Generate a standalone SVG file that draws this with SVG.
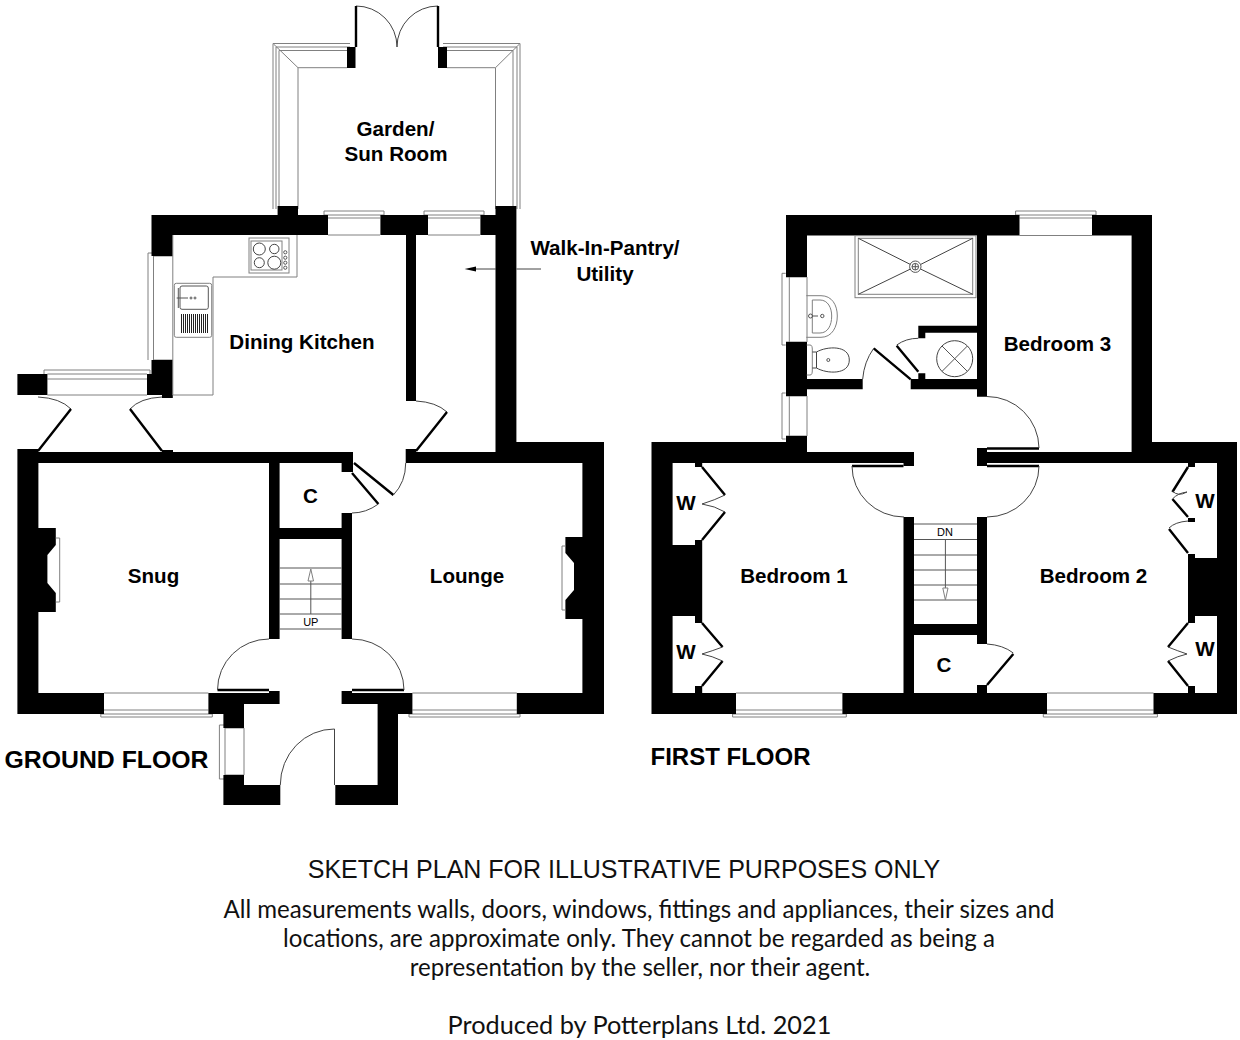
<svg xmlns="http://www.w3.org/2000/svg" width="1240" height="1040" viewBox="0 0 1240 1040">
<style>
.w{fill:#000;stroke:none}
.g{fill:none;stroke:#808080;stroke-width:1}
.gw{fill:#fff;stroke:#808080;stroke-width:1}
.a{fill:none;stroke:#444;stroke-width:1}
.d{fill:none;stroke:#000;stroke-width:2.4}
.s{fill:none;stroke:#555;stroke-width:1}
.t{font-family:"Liberation Sans",Arial,sans-serif;font-weight:700;font-size:20.6px;fill:#000;text-anchor:middle}
.u{font-family:"Liberation Sans",Arial,sans-serif;font-size:11px;fill:#000;text-anchor:middle}
.n{font-family:"Lato","Noto Sans",sans-serif;font-size:24.1px;fill:#111;text-anchor:middle}
</style>
<rect width="1240" height="1040" fill="#fff"/>

<g id="ground-floor">
<g id="sun-room-glazing" class="g">
<path d="M350 43.5H273V209M350 47H276V209M350 50.5H279V209M298 209V67.7H347M273.5 44L298 67.7"/>
<path d="M443 43.5H520V209M443 47H517V209M443 50.5H513V209M495.5 209V67.7H447M519.5 44L495.5 67.7"/>
</g>
<g id="ground-windows" class="g">
<path d="M328 218H380M328 235H380M324 215V211H384V215M324 215H384"/>
<path d="M428 218H480M428 235H480M424 215V211H484V215M424 215H484"/>
<path d="M148 360V253H153.5V360M153.5 256H172.8M153.5 360H172.8"/>
<path d="M44 374V370H150V374M47.4 379H147M47.4 395H147M47.4 374H147"/>
<path d="M104 693H208.4M104 710H208.4M100.8 714V717H212.3V714M100.8 714H212.3"/>
<path d="M412.4 693H516.8M412.4 710H516.8M409 714V717H520V714M409 714H520"/>
<path d="M244 728V775M225 728H244M225 775H244M225 725V779M219.4 725V779H225M219.4 725H225"/>
</g>
<path id="ground-walls" class="w" d="M347 47h8.5v21H347zM438 47h9v21h-9zM277.6 206H298V215H328V235H172.8V256H151.5V215H277.6zM380.4 215H428V235H416V401H406V235H380.4zM480.4 215H495.5V206H516.4V442H604V714H516.8V693H582.4V619H565.4V600L574 590V563L565.4 553V537H582.4V463H405.7V449H416V452H495.5V235H480.4zM151.5 360H172.8V398H162V395H147V374H151.5zM17.4 374H47.4V395H17.4zM17.4 449H38.4V452H162V450H173V452H353V472H341.6V463H279.6V639H269V463H38.4V528H55.8V545L47.4 555V583L55.8 593V612H38.4V693H104V714H17.4zM279.6 528H341.6V539H279.6zM341.6 513H352V639H341.6zM208.4 693H269V691H279.6V704H244V728H223.4V714H208.4zM223.4 775H244V785H280.3V805H223.4zM341.6 691H352V693H412.4V714H398V805H335.3V785H377.6V704H341.6z"/>
<g id="ground-doors">
<path class="a" d="M356 47V6A41 41 0 0 1 397 47A41 41 0 0 1 438 6V47"/>
<path class="d" d="M356 47V6M438 47V6" stroke-width="2"/>
<path class="a" d="M38 397Q60 398 71 409M162 397Q140 398 130 409M416 401Q436 402 447 412"/>
<path class="d" d="M71 409L38 451M130 409L162 451M447 412L416 451M354 463L393.4 495M352 473L378.4 504M217.5 690H269M352 690H404"/>
<path class="a" d="M393.4 495Q405.7 482 405.7 463M378.4 504Q366 513 352 513M269 639A51.5 51 0 0 0 217.5 690M352 639A52 51 0 0 1 404 690M334.5 729V785M334.5 729A54 56 0 0 0 280.3 785"/>
</g>
<g id="ground-stairs">
<path class="s" d="M279.6 568H341.6M279.6 584H341.6M279.6 599H341.6M279.6 614H341.6M279.6 629H341.6M310.8 614V581"/>
<path class="gw" d="M310.8 569L313.5 581H308z"/>
<text class="u" x="310.8" y="626">UP</text>
</g>
<g id="chimney-trim" class="g">
<path d="M55.8 538H59.7V602H55.8M565.4 546H562V610H565.4"/>
</g>
<g id="kitchen-fittings">
<path class="g" d="M297 235V277H213V395H172.8"/>
<path class="g" d="M172.8 235V395"/>
<rect class="g" x="249" y="238" width="40" height="35"/>
<rect class="g" x="251" y="241" width="31" height="29"/>
<g class="a"><circle cx="259.3" cy="249" r="6"/><circle cx="274.3" cy="249" r="4.7"/><circle cx="259.3" cy="262.7" r="5"/><circle cx="274.3" cy="262.7" r="6.5"/></g>
<g class="s"><circle cx="285.3" cy="252.3" r="1.6"/><circle cx="285.3" cy="257.7" r="1.6"/><circle cx="285.3" cy="262.7" r="1.6"/><circle cx="285.3" cy="267.7" r="1.6"/></g>
<rect class="g" x="174.3" y="283.3" width="37.4" height="54" rx="2"/>
<rect class="s" x="180" y="286" width="28.3" height="23.3" rx="2"/>
<path d="M181.5 314V333M183.5 314V333M185.5 314V333M187.5 314V333M189.5 314V333M191.5 314V333M193.5 314V333M195.5 314V333M197.5 314V333M199.5 314V333M201.5 314V333M203.5 314V333M205.5 314V333M207.5 314V333" fill="none" stroke="#222" stroke-width="1"/>
<path class="s" d="M178.3 288V308M176.7 298H188"/>
<circle class="s" cx="191" cy="298" r="1"/><circle class="s" cx="195" cy="298" r="1"/>
</g>
<g id="pantry-arrow">
<path d="M476 269H496M516.4 269H541" stroke="#444" stroke-width="1" fill="none"/>
<path d="M464.6 269L476 266.5V271.5z" fill="#000"/>
</g>
<g id="ground-labels">
<text class="t" x="395.5" y="136">Garden/</text>
<text class="t" x="396" y="161">Sun Room</text>
<text class="t" x="302" y="349">Dining Kitchen</text>
<text class="t" x="605" y="255">Walk-In-Pantry/</text>
<text class="t" x="605" y="281">Utility</text>
<text class="t" x="310.5" y="503">C</text>
<text class="t" x="153.5" y="583">Snug</text>
<text class="t" x="467" y="583">Lounge</text>
<text class="t" x="106.5" y="768" style="font-size:24.8px">GROUND FLOOR</text>
</g>
</g>

<g id="first-floor">
<g id="first-windows" class="g">
<path d="M1019.5 218H1092M1019.5 235.5H1092M1015.6 215V211H1096V215M1015.6 215H1096"/>
<path d="M786 277H807M786 342H807M807 277V342M789.3 277V342M785.7 273.3H782V345H785.7"/>
<path d="M786 396H807M786 436H807M807 396V436M789.3 396V436M785.7 393H782V439H785.7"/>
<path d="M736 693H842.4M736 710H842.4M732.6 714V717H846.3V714M732.6 714H846.3"/>
<path d="M1047 693H1153.5M1047 710H1153.5M1043.3 714V717H1157.4V714M1043.3 714H1157.4"/>
</g>
<path id="first-walls" class="w" d="M786 215H1019.5V235.5H987V396.7H977V235.5H807V277H786zM918.3 325.7H977V332.7H925.3V338.3H918.3zM910.7 379H977V389.3H910.7zM1092 215H1152V442H1237V714H1153.5V693H1217V616H1188V558H1217V463H1131.6V235.5H1092zM786 342H807V379H862.7V389.3H807V396H786zM786 436H807V452H914V466H903.5V463H672.6V545H702.2V616H672.6V693H736V714H651.5V442H786zM977 448H987V452H1131.6V463H987V466H977zM903.5 517H914V624H977V517H987V644H977V635H914V693H977V685H987V693H1047V714H842.4V693H903.5z"/>
<path class="w" d="M695 463h7.2v4H695zM695 540h7.2v5H695zM695 616h7.2v7H695zM695 686h7.2v7H695zM1188 463h7v4h-7zM1188 554h7v4h-7zM1188 616h7v7h-7zM1188 686h7v7h-7zM1188 518h7v4h-7zM918.3 373.3h7v6h-7z"/>
<g id="first-doors">
<path class="d" d="M987 448.5H1039M987 466H1039M852 466H903.5M873.7 348.3L910.7 379.3M896.7 345.7L918.3 371.7M702 467L725 495M725 512L702 540M702 623L722.6 647M722.6 661L702 686M1188 467L1172.4 492M1172.4 499L1188 517M1169 529L1188 553M1188 623L1168 647M1168 661L1188 686M1013.3 654L987 685"/>
<path class="a" d="M987 396.5A52 52 0 0 1 1039 448M852 466A52 51 0 0 0 904 517M1039 466A52 51 0 0 1 987 517M873.7 348.3Q864 362 862.7 379M896.7 345Q906 338.3 918.3 338.3M987 644Q1003 645 1013.3 653"/>
<path class="a" d="M725 495Q715 500 702 504Q715 506 725 512M722.6 647Q712 651 702 654Q712 656 722.6 661M1172.4 491Q1178 497 1187 492Q1178 493 1172.4 499M1168 647Q1178 651 1187 654Q1178 656 1168 661M1188 521Q1175 522 1169 528"/>
</g>
<g id="first-stairs">
<path class="s" d="M914 524H977M914 539.5H977M914 555H977M914 570H977M914 585H977M914 600H977M945.4 540V588"/>
<path class="gw" d="M945.4 600L948 588H942.8z"/>
<text class="u" x="945" y="536">DN</text>
</g>
<g id="bathroom-fittings">
<rect class="g" x="855" y="235.7" width="121" height="62"/>
<rect class="g" x="858.3" y="238.3" width="114.4" height="56"/>
<path class="a" d="M858.3 238.3L910.5 264.5M972.7 238.3L920.5 264.5M858.3 294.3L910.5 269M972.7 294.3L920.5 269"/>
<circle class="s" cx="915.3" cy="266.7" r="5.7"/><circle class="s" cx="915.3" cy="266.7" r="3.3"/><path class="s" d="M912 266.7H918.6M915.3 263.4V270"/>
<path class="g" d="M806.3 295.7H821C832 295.7 837.3 305 837.3 316C837.3 327 832 337.3 821 337.3H806.3"/>
<path class="g" d="M812.3 300H820C828 300 831.7 308 831.7 316C831.7 325 828 333 820 333H812.3Z"/>
<circle class="s" cx="810.5" cy="316" r="2"/><circle class="s" cx="822.3" cy="316" r="1.7"/><path class="s" d="M812 316H818"/>
<path class="g" d="M806.7 345H810C812 345 812.3 347 812.3 350V370C812.3 373 812 375 810 375H806.7"/>
<path class="a" d="M816.5 352C827 346 849.3 345 849.3 360C849.3 375 827 374 816.5 368Z"/>
<path class="a" d="M812.3 352H816.5M812.3 368H816.5"/>
<circle class="s" cx="828.3" cy="360" r="1.5"/>
<circle class="a" cx="954.7" cy="358.7" r="18"/>
<path class="s" d="M942 346L967.4 371.4M967.4 346L942 371.4"/>
</g>
<g id="first-labels">
<text class="t" x="1057.5" y="351">Bedroom 3</text>
<text class="t" x="794" y="583">Bedroom 1</text>
<text class="t" x="1093.5" y="583">Bedroom 2</text>
<text class="t" x="944" y="672">C</text>
<text class="t" x="686" y="510">W</text>
<text class="t" x="686" y="659">W</text>
<text class="t" x="1205" y="508">W</text>
<text class="t" x="1205" y="656">W</text>
<text class="t" x="730.5" y="765" style="font-size:24px">FIRST FLOOR</text>
</g>
</g>

<g id="disclaimer">
<text x="624" y="878" style="font-family:'Liberation Sans',Arial,sans-serif;font-size:25px;fill:#111;text-anchor:middle">SKETCH PLAN FOR ILLUSTRATIVE PURPOSES ONLY</text>
<text class="n" x="639" y="918">All measurements walls, doors, windows, fittings and appliances, their sizes and</text>
<text class="n" x="639" y="947">locations, are approximate only. They cannot be regarded as being a</text>
<text class="n" x="640" y="976">representation by the seller, nor their agent.</text>
<text class="n" x="639.5" y="1034" style="font-size:25.3px">Produced by Potterplans Ltd. 2021</text>
</g>
</svg>
